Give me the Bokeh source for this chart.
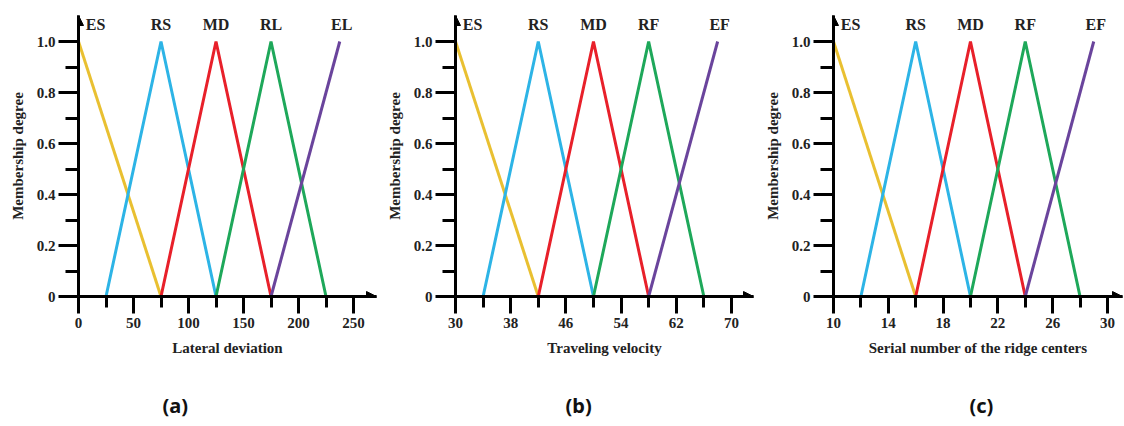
from bokeh.plotting import figure
from bokeh.layouts import row
from bokeh.models import FixedTicker, Arrow, NormalHead, Title, ColumnDataSource
from bokeh.embed import file_html
from bokeh.resources import INLINE
from bokeh.core.properties import value

# ---------------- data ----------------
terms_a = ["ES", "RS", "MD", "RL", "EL"]
terms_b = ["ES", "RS", "MD", "RF", "EF"]
terms_c = ["ES", "RS", "MD", "RF", "EF"]

x_a = [[0, 75], [25, 75, 125], [75, 125, 175], [125, 175, 225], [175, 237.5]]
x_b = [[30, 42], [34, 42, 50], [42, 50, 58], [50, 58, 66], [58, 68]]
x_c = [[10, 16], [12, 16, 20], [16, 20, 24], [20, 24, 28], [24, 29]]
membership = [[1, 0], [0, 1, 0], [0, 1, 0], [0, 1, 0], [0, 1]]

xticks_a = [0, 50, 100, 150, 200, 250]
xminor_a = [25, 75, 125, 175, 225]
xticks_b = [30, 38, 46, 54, 62, 70]
xminor_b = [34, 42, 50, 58, 66]
xticks_c = [10, 14, 18, 22, 26, 30]
xminor_c = [12, 16, 20, 24, 28]

yticks = [0, 0.2, 0.4, 0.6, 0.8, 1.0]
yminor = [0.1, 0.3, 0.5, 0.7, 0.9]
ytick_labels = ["0", "0.2", "0.4", "0.6", "0.8", "1.0"]

xlabels = ["Lateral deviation", "Traveling velocity", "Serial number of the ridge centers"]
ylabel = "Membership degree"
captions = ["(a)", "(b)", "(c)"]

colors = ["#E9C031", "#2DB4E6", "#E8202A", "#1EA85A", "#6A449C"]

# ---------------- layout constants ----------------
SERIF = "Liberation Serif"
panels = [
    dict(terms=terms_a, xs=x_a, ticks=xticks_a, minor=xminor_a, xr=(0, 270.9),
         left=78, fw=298, right=1, cap_off=84),
    dict(terms=terms_b, xs=x_b, ticks=xticks_b, minor=xminor_b, xr=(30, 73.2),
         left=78, fw=298, right=1, cap_off=110),
    dict(terms=terms_c, xs=x_c, ticks=xticks_c, minor=xminor_c, xr=(10, 31.1),
         left=79, fw=289, right=2, cap_off=136),
]
Y_TOP = 1.102
FH = 281

figs = []
for i, pnl in enumerate(panels):
    x0, x1 = pnl["xr"]
    p = figure(frame_width=pnl["fw"], frame_height=FH,
               x_range=(x0, x1), y_range=(0, Y_TOP),
               min_border_left=pnl["left"], min_border_right=pnl["right"],
               min_border_top=15, min_border_bottom=0,
               output_backend="svg", toolbar_location=None)
    p.outline_line_color = None
    p.grid.visible = False
    p.background_fill_color = "white"
    p.border_fill_color = "white"

    # axes
    xa = p.xaxis[0]
    xa.ticker = FixedTicker(ticks=pnl["ticks"], minor_ticks=pnl["minor"])
    xa.axis_line_width = 3
    xa.major_tick_line_width = 3
    xa.minor_tick_line_width = 3
    xa.major_tick_in = 0
    xa.major_tick_out = 17
    xa.minor_tick_in = 0
    xa.minor_tick_out = 11
    xa.major_label_text_font = SERIF
    xa.major_label_text_font_style = "bold"
    xa.major_label_text_font_size = "15px"
    xa.major_label_text_color = "#222222"
    xa.major_label_standoff = 4
    xa.axis_label = xlabels[i]
    xa.axis_label_text_font = SERIF
    xa.axis_label_text_font_style = "bold"
    xa.axis_label_text_font_size = "15px"
    xa.axis_label_text_color = "#222222"
    xa.axis_label_standoff = 9

    ya = p.yaxis[0]
    ya.ticker = FixedTicker(ticks=yticks, minor_ticks=yminor)
    ya.major_label_overrides = {t: l for t, l in zip(yticks, ytick_labels)}
    ya.axis_line_width = 3
    ya.major_tick_line_width = 3
    ya.minor_tick_line_width = 3
    ya.major_tick_in = 0
    ya.major_tick_out = 20
    ya.minor_tick_in = 0
    ya.minor_tick_out = 13
    ya.major_label_text_font = SERIF
    ya.major_label_text_font_style = "bold"
    ya.major_label_text_font_size = "15px"
    ya.major_label_text_color = "#222222"
    ya.major_label_standoff = 3
    ya.axis_label = ylabel
    ya.axis_label_text_font = SERIF
    ya.axis_label_text_font_style = "bold"
    ya.axis_label_text_font_size = "15px"
    ya.axis_label_text_color = "#222222"
    ya.axis_label_standoff = 8

    # arrow heads at axis ends
    p.add_layout(Arrow(end=NormalHead(size=10, fill_color="black", line_color="black"),
                       x_start=x0, y_start=0, x_end=x1, y_end=0,
                       line_width=3, line_color="black"))
    p.add_layout(Arrow(end=NormalHead(size=10, fill_color="black", line_color="black"),
                       x_start=x0, y_start=0, x_end=x0, y_end=Y_TOP,
                       line_width=3, line_color="black"))

    # membership functions
    peaks = []
    for k, (xs, ys) in enumerate(zip(pnl["xs"], membership)):
        p.line(xs, ys, line_color=colors[k], line_width=3)
        peaks.append(xs[ys.index(1)])

    src = ColumnDataSource(dict(x=peaks, y=[1.066] * 5, t=pnl["terms"],
                                dx=[17, 0, 0, 0, 2]))
    p.text(x="x", y="y", text="t", x_offset="dx", source=src,
           text_font=value(SERIF), text_font_style="bold", text_font_size="16px",
           text_align="center", text_baseline="middle", text_color="#222222")

    # sub caption (a), (b), (c)
    p.add_layout(Title(text=captions[i], align="left", offset=pnl["cap_off"],
                       text_font="Noto Sans", text_font_style="bold",
                       text_font_size="20px", text_color="#111111",
                       standoff=63), "below")
    figs.append(p)

layout = row(*figs, spacing=0)
open("out.html", "w").write(file_html(layout, INLINE))
